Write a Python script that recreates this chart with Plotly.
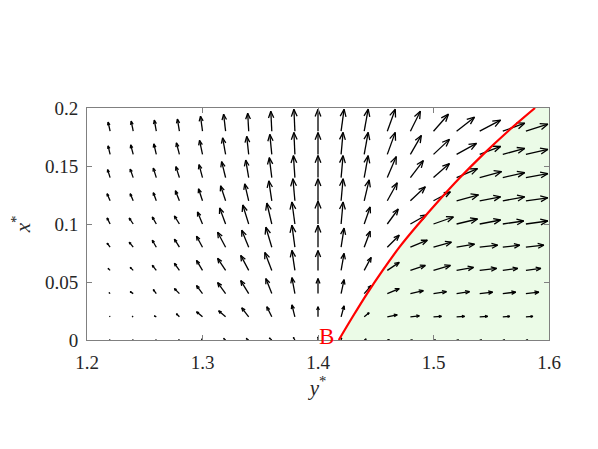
import plotly.graph_objects as go

# grid of the quiver plot
y_star = [1.22, 1.24, 1.26, 1.28, 1.30, 1.32, 1.34, 1.36, 1.38, 1.40,
          1.42, 1.44, 1.46, 1.48, 1.50, 1.52, 1.54, 1.56, 1.58]
x_star = [0.0, 0.02, 0.04, 0.06, 0.08, 0.10, 0.12, 0.14, 0.16, 0.18]

# arrow components (one row per x* value, bottom row first)
U = [
    [-0.5, -0.5, -0.5, -0.7, -1, -2, -2.5, -2.5, -1.5, 0, 0.5, 2, 2, 2, 2, 2, 2, 2, 2],
    [-0.5, -1, -2, -3, -6, -7, -7, -5, -3, 0, 3, 5, 10, 9, 8, 8, 8, 7, 7],
    [-1, -3, -3, -5, -6, -8, -8, -6, -3, 0, 3, 7, 12, 13, 13, 13, 13, 13, 13],
    [-2, -3, -4, -5, -6, -8, -8, -7, -3, 0, 3, 7, 12, 15, 17, 17, 17, 15, 15],
    [-3, -4, -4, -5, -6, -8, -7, -6, -3, 0, 3, 6, 12, 17, 18, 18, 18, 17, 18],
    [-3, -4, -4, -5, -5, -6, -6, -5, -3, 0, 2, 6, 11, 16, 20, 21, 21, 21, 22],
    [-3, -3, -3, -4, -4, -5, -4, -3, -2, 0, 2, 5, 10, 15, 17, 22, 21, 22, 22],
    [-2.5, -3, -3, -3.5, -3.5, -4, -3, -2.5, -1.5, 0, 2, 4, 9, 13, 16, 21, 22, 22, 22],
    [-2, -2.5, -2.5, -3, -3, -3, -2, -2, -1, 0, 2, 4, 8, 11, 16, 20, 21, 22, 22],
    [-2, -2, -2, -2, -2, -2, -1, -1, -1, 0, 3, 4, 8, 10, 15, 18, 21, 22, 22],
]
V = [
    [0.3, 0.3, 0.3, 0.4, 1, 1.5, 1.5, 2, 2.5, 3, 2, 1, 0.3, 0, 0, 0, 0, 0, 0],
    [0.5, 0.5, 1, 3, 5, 6, 9, 10, 12, 10, 11, 4, 2, 1, 0.5, 0.5, 0.5, 0.5, 0.5],
    [1, 2, 4, 5, 8, 11, 13, 15, 16, 15, 14, 8, 5, 3, 2, 2, 1.5, 1.5, 1.5],
    [2, 3, 5, 7, 10, 12, 15, 18, 20, 20, 17, 13, 8, 5, 5, 3, 2, 2, 2],
    [4, 5, 7, 8, 11, 15, 17, 20, 22, 22, 19, 16, 12, 7, 5, 3, 2, 2, 2],
    [6, 6, 7, 8, 12, 16, 19, 21, 22, 23, 22, 17, 15, 9, 7, 5, 4, 3, 3],
    [7, 7, 8, 10, 12, 15, 17, 20, 22, 22, 22, 21, 18, 14, 9, 6, 4, 4, 3],
    [8, 8.5, 9.5, 11, 13, 16, 17.5, 20, 22, 22, 22, 22, 21, 17, 14, 9, 6, 5, 4],
    [8.5, 9.5, 10.5, 11.5, 14, 16.5, 18, 20, 22, 22, 22, 22, 22, 19, 15, 11, 8, 6, 5],
    [9, 10, 11, 12, 15, 17, 18, 20, 22, 22, 22, 22, 22, 20, 17, 14, 11, 8, 7],
]
arrow_scale = 1 / 1160.0

# red boundary curve starting at point B
curve_x = [0.0, 0.02, 0.04, 0.06, 0.08, 0.10, 0.12, 0.14, 0.16, 0.18, 0.20]
curve_y = [1.418, 1.430, 1.4425, 1.456, 1.4705, 1.487, 1.5045, 1.523, 1.543, 1.5645, 1.5879]

SERIF = "Liberation Serif, Times New Roman, Times, serif"

# build quiver segments
qx, qy = [], []
a, b = 0.33, 0.4
for j, yy in enumerate(x_star):
    for k, xx in enumerate(y_star):
        u = U[j][k] * arrow_scale
        v = V[j][k] * arrow_scale
        x1, y1 = xx + u, yy + v
        qx += [xx, x1, None,
               x1 - a * (u + b * v), x1, x1 - a * (u - b * v), None]
        qy += [yy, y1, None,
               y1 - a * (v - b * u), y1, y1 - a * (v + b * u), None]

fig = go.Figure()

# shaded region right of the curve
fig.add_trace(go.Scatter(
    x=curve_y + [1.6, 1.6],
    y=curve_x + [0.2, 0.0],
    fill="toself", fillcolor="#ebfbe7", mode="none",
    hoverinfo="skip", showlegend=False))

fig.add_trace(go.Scatter(
    x=qx, y=qy, mode="lines",
    line=dict(color="black", width=1.3),
    hoverinfo="skip", showlegend=False))

fig.add_trace(go.Scatter(
    x=curve_y, y=curve_x, mode="lines",
    line=dict(color="#ff0000", width=2.2, shape="spline"),
    showlegend=False))

fig.add_annotation(x=1.407, y=0.003, text="B", showarrow=False,
                   xanchor="center", yanchor="middle",
                   font=dict(family=SERIF, size=23, color="#ff0000"))

axis_style = dict(showgrid=False, zeroline=False, showline=True,
                  linecolor="#808080", linewidth=1, mirror="ticks",
                  ticks="inside", ticklen=5, tickcolor="#808080",
                  tickfont=dict(family=SERIF, size=19, color="#262626"))

fig.update_xaxes(range=[1.2, 1.6], tickvals=[1.2, 1.3, 1.4, 1.5, 1.6],
                 ticktext=["1.2", "1.3", "1.4", "1.5", "1.6"],
                 ticklabelstandoff=5,
                 title=dict(text="<i>y</i><sup>*</sup>", standoff=4,
                            font=dict(family=SERIF, size=21, color="#262626")),
                 **axis_style)
fig.update_yaxes(range=[0, 0.2], tickvals=[0, 0.05, 0.1, 0.15, 0.2],
                 ticktext=["0", "0.05", "0.1", "0.15", "0.2"],
                 ticklabelstandoff=4,
                 title=dict(text="<i>x</i><sup>*</sup>", standoff=10,
                            font=dict(family=SERIF, size=21, color="#262626")),
                 **axis_style)

fig.update_layout(width=598, height=449,
                  margin=dict(l=77, r=57, t=100, b=117),
                  plot_bgcolor="white", paper_bgcolor="white")

fig.write_html("out.html")
